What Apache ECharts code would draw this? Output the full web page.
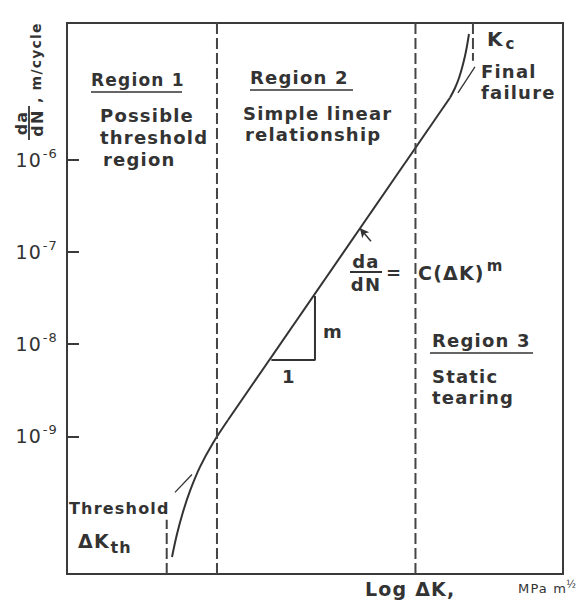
<!DOCTYPE html>
<html>
<head>
<meta charset="utf-8">
<script src="https://cdn.jsdelivr.net/npm/echarts@6/dist/echarts.min.js"></script>
<style>
  html, body { margin: 0; padding: 0; background: #fff; }
  #chart { width: 585px; height: 606px; }
  #chart svg text { letter-spacing: 1.2px; }
</style>
</head>
<body>
<div id="chart"></div>
<script>
// x = log10(ΔK), y = log10(da/dN)
const X_RANGE = [0.5, 2.45];
const Y_RANGE = [-10.49, -4.52];
const Y_TICKS = [-9, -8, -7, -6];

// Crack growth curve in three parts: threshold knee, Paris-law line, final failure
const thresholdCurve = [
  [0.9128, -10.305], [0.9325, -10.056], [0.9560, -9.818], [0.9836, -9.590],
  [1.0229, -9.330], [1.0740, -9.070], [1.1330, -8.821]
];
const parisLine = [[1.1330, -8.821], [2.0057, -5.330]];
const finalCurve = [
  [2.0057, -5.330], [2.0254, -5.224], [2.0411, -5.116], [2.0529, -5.008],
  [2.0647, -4.878], [2.0725, -4.769], [2.0804, -4.639]
];

// Region boundaries (dashed)
const regionBounds = [1.0896, 1.870];
const thresholdMarker = [[0.892, -10.49], [0.892, -9.903]];
const kcMarker = [[2.096, -4.52], [2.096, -4.93]];

// Slope triangle 1 : m
const slopeTriangle = [[1.3035, -8.170], [1.4749, -8.170], [1.4749, -7.477]];

// Leader lines
const thresholdLeader = [[0.9245, -9.606], [0.9913, -9.412]];
const failureLeader = [[2.1038, -4.995], [2.0370, -5.276]];
const equationPointer = [[1.6517, -6.745], [1.695, -6.885]];

const INK = '#333333';
const FONT = '"DejaVu Sans", sans-serif';

function solid(data, extra) {
  return Object.assign({
    type: 'line', data: data, symbol: 'none', silent: true, animation: false,
    lineStyle: { color: INK, width: 2 }
  }, extra || {});
}
function dashed(data) {
  return {
    type: 'line', data: data, symbol: 'none', silent: true, animation: false,
    lineStyle: { color: '#444', width: 2, type: [11, 4] }
  };
}

const series = [
  solid(thresholdCurve, { smooth: 0.35 }),
  solid(parisLine, {
    markLine: {
      silent: true, animation: false,
      symbol: ['arrow', 'none'], symbolSize: [7, 9],
      label: { show: false },
      lineStyle: { color: INK, width: 1.5, type: 'solid' },
      data: [[{ coord: equationPointer[0] }, { coord: equationPointer[1] }]]
    }
  }),
  solid(finalCurve, { smooth: 0.35 }),
  dashed([[regionBounds[0], Y_RANGE[0]], [regionBounds[0], Y_RANGE[1]]]),
  dashed([[regionBounds[1], Y_RANGE[0]], [regionBounds[1], Y_RANGE[1]]]),
  dashed(thresholdMarker),
  dashed(kcMarker),
  solid(slopeTriangle),
  solid(thresholdLeader, { lineStyle: { color: INK, width: 1.3 } }),
  solid(failureLeader, { lineStyle: { color: INK, width: 1.3 } })
];

function txt(x, y, text, size, extra) {
  return {
    type: 'text', x: x, y: y, silent: true,
    style: Object.assign({
      text: text, fill: INK, font: 'bold ' + size + 'px ' + FONT,
      align: 'left', verticalAlign: 'middle'
    }, extra || {})
  };
}
function rule(x1, y1, x2, y2, w) {
  return {
    type: 'line', silent: true,
    shape: { x1: x1, y1: y1, x2: x2, y2: y2 },
    style: { stroke: INK, lineWidth: w || 1.6 }
  };
}
function rt(size, extra) {
  return Object.assign({ fontSize: size, fontFamily: FONT, fontWeight: 'bold', fill: INK }, extra || {});
}

const TS = 18;
const graphic = [
  txt(91, 80, 'Region 1', 17), rule(91, 92, 182, 92),
  txt(100, 115, 'Possible', TS),
  txt(100, 137, 'threshold', TS),
  txt(103, 159, 'region', TS),

  txt(250, 77, 'Region 2', TS), rule(250, 90, 353, 90),
  txt(243, 113, 'Simple linear', TS),
  txt(245, 134, 'relationship', TS),

  txt(432, 340, 'Region 3', TS), rule(430, 353, 533, 353),
  txt(432, 376, 'Static', TS),
  txt(432, 397, 'tearing', TS),

  txt(487, 39, '{b|K}{s|c}', TS, { rich: {
    b: rt(20), s: rt(15, { padding: [10, 0, 0, 3] })
  } }),
  txt(481, 71, 'Final', TS),
  txt(481, 92, 'failure', TS),

  txt(69, 508, 'Threshold', 16),
  txt(78, 541, '{b|ΔK}{s|th}', TS, { rich: {
    b: rt(19), s: rt(16, { padding: [12, 0, 0, 3] })
  } }),

  // da/dN = C(ΔK)^m
  txt(366, 261, 'da', TS, { align: 'center' }),
  rule(350, 272, 382, 272, 2),
  txt(366, 284, 'dN', TS, { align: 'center' }),
  txt(386, 272, '=', TS),
  txt(418, 273, '{b|C(ΔK)}{s|m}', TS, { rich: {
    b: rt(19), s: rt(15, { padding: [0, 0, 14, 8] })
  } }),

  txt(323, 331, 'm', TS),
  txt(282, 376, '1', TS),

  txt(365, 589, 'Log ΔK,', 19),
  txt(518, 588, '{b|MPa m}{s|½}', 13, { rich: {
    b: rt(13, { fontWeight: 'normal' }), s: rt(10, { fontWeight: 'normal', padding: [0, 0, 8, 5] })
  } }),

  // rotated y-axis title: da/dN, m/cycle
  {
    type: 'group', x: 29, y: 141, rotation: Math.PI / 2, silent: true,
    children: [
      txt(18, -8, 'da', 16, { align: 'center' }),
      rule(1, 0, 35, 0, 1.8),
      txt(18, 8, 'dN', 16, { align: 'center' }),
      txt(38, 7, ', m/cycle', 14)
    ]
  }
];

const chart = echarts.init(document.getElementById('chart'), null, { renderer: 'svg' });
chart.setOption({
  animation: false,
  backgroundColor: '#fff',
  grid: {
    left: 67, right: 22, top: 23, bottom: 32,
    show: true, borderColor: '#3a3a3a', borderWidth: 2, backgroundColor: 'transparent'
  },
  xAxis: {
    type: 'value', min: X_RANGE[0], max: X_RANGE[1],
    axisLine: { show: false }, axisTick: { show: false },
    axisLabel: { show: false }, splitLine: { show: false }
  },
  yAxis: {
    type: 'value', min: Y_RANGE[0], max: Y_RANGE[1],
    axisLine: { show: false }, splitLine: { show: false },
    axisTick: {
      show: true, inside: true, length: 12, customValues: Y_TICKS,
      lineStyle: { color: '#3a3a3a', width: 2 }
    },
    axisLabel: {
      show: true, margin: 9, customValues: Y_TICKS,
      formatter: function (v) { return '{b|10}{s|' + v + '}'; },
      rich: {
        b: { fontSize: 19, fontFamily: FONT, color: INK },
        s: { fontSize: 13, fontFamily: FONT, color: INK, padding: [0, 0, 13, 3] }
      }
    }
  },
  graphic: graphic,
  series: series
});
</script>
</body>
</html>
